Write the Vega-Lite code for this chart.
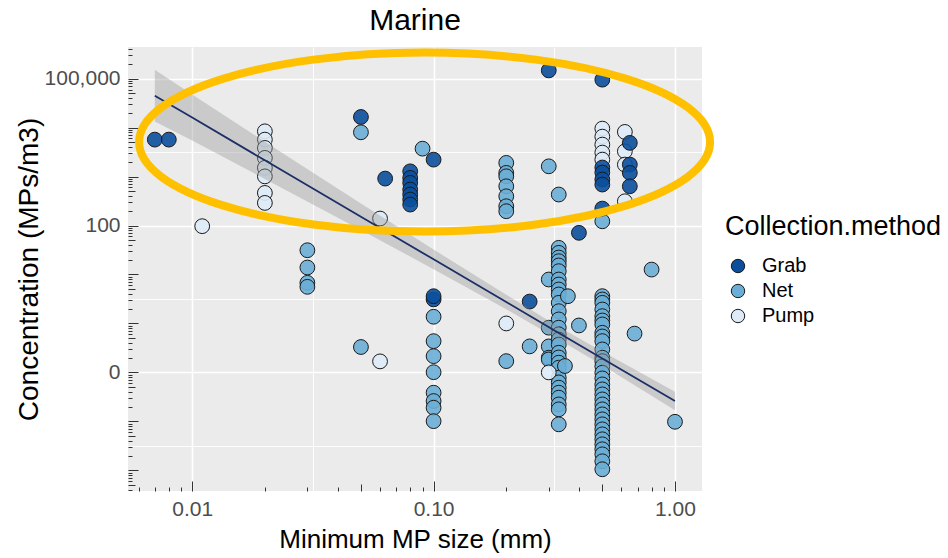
{
  "$schema": "https://vega.github.io/schema/vega-lite/v6.json",
  "width": 574,
  "height": 444,
  "autosize": {"type": "none"},
  "padding": {"left": 128, "top": 47, "right": 246, "bottom": 67},
  "background": "#FFFFFF",
  "title": {"text": "Marine", "fontSize": 30, "font": "Liberation Sans", "fontWeight": "normal", "color": "#000000", "anchor": "middle", "offset": 1},
  "config": {
    "view": {"fill": "#EBEBEB", "stroke": null},
    "font": "Liberation Sans",
    "axis": {"labelFont": "Liberation Sans", "titleFont": "Liberation Sans"},
    "legend": {"labelFont": "Liberation Sans", "titleFont": "Liberation Sans"}
  },
  "datasets": {
    "points": [
      {"size": 0.03, "conc": 31.3, "method": "Net"},
      {"size": 0.03, "conc": 13.9, "method": "Net"},
      {"size": 0.03, "conc": 6.76, "method": "Net"},
      {"size": 0.03, "conc": 5.6, "method": "Net"},
      {"size": 0.05, "conc": 8030, "method": "Net"},
      {"size": 0.05, "conc": 0.33, "method": "Net"},
      {"size": 0.09, "conc": 3720, "method": "Net"},
      {"size": 0.1, "conc": 1.37, "method": "Net"},
      {"size": 0.1, "conc": 0.435, "method": "Net"},
      {"size": 0.1, "conc": 0.215, "method": "Net"},
      {"size": 0.1, "conc": 0.101, "method": "Net"},
      {"size": 0.1, "conc": 0.0385, "method": "Net"},
      {"size": 0.1, "conc": 0.026, "method": "Net"},
      {"size": 0.1, "conc": 0.019, "method": "Net"},
      {"size": 0.1, "conc": 0.0101, "method": "Net"},
      {"size": 0.2, "conc": 1905, "method": "Net"},
      {"size": 0.2, "conc": 1190, "method": "Net"},
      {"size": 0.2, "conc": 1014, "method": "Net"},
      {"size": 0.2, "conc": 634, "method": "Net"},
      {"size": 0.2, "conc": 396, "method": "Net"},
      {"size": 0.2, "conc": 248, "method": "Net"},
      {"size": 0.2, "conc": 196, "method": "Net"},
      {"size": 0.2, "conc": 0.17, "method": "Net"},
      {"size": 0.25, "conc": 0.34, "method": "Net"},
      {"size": 0.3, "conc": 1620, "method": "Net"},
      {"size": 0.3, "conc": 7.9, "method": "Net"},
      {"size": 0.3, "conc": 0.82, "method": "Net"},
      {"size": 0.3, "conc": 0.34, "method": "Net"},
      {"size": 0.3, "conc": 0.2, "method": "Net"},
      {"size": 0.3, "conc": 0.184, "method": "Net"},
      {"size": 0.33, "conc": 430, "method": "Net"},
      {"size": 0.33, "conc": 35.1, "method": "Net"},
      {"size": 0.33, "conc": 27.7, "method": "Net"},
      {"size": 0.33, "conc": 22.2, "method": "Net"},
      {"size": 0.33, "conc": 18.7, "method": "Net"},
      {"size": 0.33, "conc": 15.3, "method": "Net"},
      {"size": 0.33, "conc": 11.7, "method": "Net"},
      {"size": 0.33, "conc": 7.9, "method": "Net"},
      {"size": 0.33, "conc": 6.25, "method": "Net"},
      {"size": 0.33, "conc": 4.94, "method": "Net"},
      {"size": 0.33, "conc": 3.91, "method": "Net"},
      {"size": 0.33, "conc": 2.64, "method": "Net"},
      {"size": 0.33, "conc": 1.78, "method": "Net"},
      {"size": 0.33, "conc": 1.21, "method": "Net"},
      {"size": 0.33, "conc": 0.82, "method": "Net"},
      {"size": 0.33, "conc": 0.6, "method": "Net"},
      {"size": 0.33, "conc": 0.47, "method": "Net"},
      {"size": 0.33, "conc": 0.37, "method": "Net"},
      {"size": 0.33, "conc": 0.252, "method": "Net"},
      {"size": 0.33, "conc": 0.202, "method": "Net"},
      {"size": 0.33, "conc": 0.158, "method": "Net"},
      {"size": 0.33, "conc": 0.125, "method": "Net"},
      {"size": 0.33, "conc": 0.078, "method": "Net"},
      {"size": 0.33, "conc": 0.0625, "method": "Net"},
      {"size": 0.33, "conc": 0.0488, "method": "Net"},
      {"size": 0.33, "conc": 0.0385, "method": "Net"},
      {"size": 0.33, "conc": 0.0305, "method": "Net"},
      {"size": 0.33, "conc": 0.0222, "method": "Net"},
      {"size": 0.33, "conc": 0.0176, "method": "Net"},
      {"size": 0.33, "conc": 0.0087, "method": "Net"},
      {"size": 0.35, "conc": 0.135, "method": "Net"},
      {"size": 0.36, "conc": 3.6, "method": "Net"},
      {"size": 0.4, "conc": 0.91, "method": "Net"},
      {"size": 0.5, "conc": 122, "method": "Net"},
      {"size": 0.5, "conc": 3.61, "method": "Net"},
      {"size": 0.5, "conc": 3.09, "method": "Net"},
      {"size": 0.5, "conc": 2.64, "method": "Net"},
      {"size": 0.5, "conc": 1.93, "method": "Net"},
      {"size": 0.5, "conc": 1.41, "method": "Net"},
      {"size": 0.5, "conc": 1.15, "method": "Net"},
      {"size": 0.5, "conc": 0.955, "method": "Net"},
      {"size": 0.5, "conc": 0.645, "method": "Net"},
      {"size": 0.5, "conc": 0.543, "method": "Net"},
      {"size": 0.5, "conc": 0.436, "method": "Net"},
      {"size": 0.5, "conc": 0.295, "method": "Net"},
      {"size": 0.5, "conc": 0.2, "method": "Net"},
      {"size": 0.5, "conc": 0.17, "method": "Net"},
      {"size": 0.5, "conc": 0.133, "method": "Net"},
      {"size": 0.5, "conc": 0.0986, "method": "Net"},
      {"size": 0.5, "conc": 0.0755, "method": "Net"},
      {"size": 0.5, "conc": 0.0569, "method": "Net"},
      {"size": 0.5, "conc": 0.045, "method": "Net"},
      {"size": 0.5, "conc": 0.0356, "method": "Net"},
      {"size": 0.5, "conc": 0.0281, "method": "Net"},
      {"size": 0.5, "conc": 0.0222, "method": "Net"},
      {"size": 0.5, "conc": 0.0176, "method": "Net"},
      {"size": 0.5, "conc": 0.0139, "method": "Net"},
      {"size": 0.5, "conc": 0.011, "method": "Net"},
      {"size": 0.5, "conc": 0.0087, "method": "Net"},
      {"size": 0.5, "conc": 0.00687, "method": "Net"},
      {"size": 0.5, "conc": 0.00543, "method": "Net"},
      {"size": 0.5, "conc": 0.0043, "method": "Net"},
      {"size": 0.5, "conc": 0.0034, "method": "Net"},
      {"size": 0.5, "conc": 0.00269, "method": "Net"},
      {"size": 0.5, "conc": 0.00212, "method": "Net"},
      {"size": 0.5, "conc": 0.00153, "method": "Net"},
      {"size": 0.5, "conc": 0.00105, "method": "Net"},
      {"size": 0.68, "conc": 0.62, "method": "Net"},
      {"size": 0.8, "conc": 12.6, "method": "Net"},
      {"size": 1.0, "conc": 0.0098, "method": "Net"},
      {"size": 0.011, "conc": 97, "method": "Pump"},
      {"size": 0.02, "conc": 8400, "method": "Pump"},
      {"size": 0.02, "conc": 5690, "method": "Pump"},
      {"size": 0.02, "conc": 3850, "method": "Pump"},
      {"size": 0.02, "conc": 2410, "method": "Pump"},
      {"size": 0.02, "conc": 1510, "method": "Pump"},
      {"size": 0.02, "conc": 1010, "method": "Pump"},
      {"size": 0.02, "conc": 464, "method": "Pump"},
      {"size": 0.02, "conc": 290, "method": "Pump"},
      {"size": 0.06, "conc": 139, "method": "Pump"},
      {"size": 0.06, "conc": 0.168, "method": "Pump"},
      {"size": 0.2, "conc": 1.0, "method": "Pump"},
      {"size": 0.3, "conc": 0.1, "method": "Pump"},
      {"size": 0.5, "conc": 9550, "method": "Pump"},
      {"size": 0.5, "conc": 6550, "method": "Pump"},
      {"size": 0.5, "conc": 4500, "method": "Pump"},
      {"size": 0.5, "conc": 3090, "method": "Pump"},
      {"size": 0.5, "conc": 2220, "method": "Pump"},
      {"size": 0.62, "conc": 8170, "method": "Pump"},
      {"size": 0.62, "conc": 3280, "method": "Pump"},
      {"size": 0.62, "conc": 1760, "method": "Pump"},
      {"size": 0.62, "conc": 313, "method": "Pump"},
      {"size": 0.007, "conc": 5690, "method": "Grab"},
      {"size": 0.008, "conc": 5690, "method": "Grab"},
      {"size": 0.05, "conc": 16500, "method": "Grab"},
      {"size": 0.063, "conc": 910, "method": "Grab"},
      {"size": 0.08, "conc": 1280, "method": "Grab"},
      {"size": 0.08, "conc": 940, "method": "Grab"},
      {"size": 0.08, "conc": 743, "method": "Grab"},
      {"size": 0.08, "conc": 543, "method": "Grab"},
      {"size": 0.08, "conc": 430, "method": "Grab"},
      {"size": 0.08, "conc": 340, "method": "Grab"},
      {"size": 0.08, "conc": 268, "method": "Grab"},
      {"size": 0.1, "conc": 2220, "method": "Grab"},
      {"size": 0.1, "conc": 3.1, "method": "Grab"},
      {"size": 0.1, "conc": 3.6, "method": "Grab"},
      {"size": 0.25, "conc": 2.8, "method": "Grab"},
      {"size": 0.3, "conc": 147600, "method": "Grab"},
      {"size": 0.4, "conc": 71, "method": "Grab"},
      {"size": 0.5, "conc": 95500, "method": "Grab"},
      {"size": 0.5, "conc": 1530, "method": "Grab"},
      {"size": 0.5, "conc": 1210, "method": "Grab"},
      {"size": 0.5, "conc": 870, "method": "Grab"},
      {"size": 0.5, "conc": 687, "method": "Grab"},
      {"size": 0.5, "conc": 222, "method": "Grab"},
      {"size": 0.65, "conc": 4880, "method": "Grab"},
      {"size": 0.65, "conc": 1760, "method": "Grab"},
      {"size": 0.65, "conc": 1190, "method": "Grab"},
      {"size": 0.65, "conc": 634, "method": "Grab"}
    ],
    "fit": [
      {"size": 0.007, "lo": 13270, "fit": 44980, "hi": 152400},
      {"size": 0.01, "lo": 5430, "fit": 16030, "hi": 47300},
      {"size": 0.02, "lo": 895, "fit": 2148, "hi": 5150},
      {"size": 0.05, "lo": 81.3, "fit": 151.4, "hi": 281.8},
      {"size": 0.1, "lo": 12.85, "fit": 20.4, "hi": 32.3},
      {"size": 0.2, "lo": 1.94, "fit": 2.742, "hi": 3.87},
      {"size": 0.33, "lo": 0.472, "fit": 0.637, "hi": 0.859},
      {"size": 0.5, "lo": 0.14, "fit": 0.193, "hi": 0.267},
      {"size": 1.0, "lo": 0.0168, "fit": 0.026, "hi": 0.0403}
    ]
  },
  "layer": [
    {
      "data": {"name": "points"},
      "mark": {"type": "point", "shape": "circle", "filled": true, "size": 219, "stroke": "#1A1A1A", "strokeWidth": 1, "fillOpacity": 0.9, "strokeOpacity": 1},
      "encoding": {
        "x": {
          "field": "size", "type": "quantitative",
          "scale": {"type": "log", "domain": [0.00542, 1.294], "nice": false},
          "axis": {
            "title": "Minimum MP size (mm)",
            "values": [0.006, 0.007, 0.008, 0.009, 0.01, 0.02, 0.03, 0.031623, 0.04, 0.05, 0.06, 0.07, 0.08, 0.09, 0.1, 0.2, 0.3, 0.31623, 0.4, 0.5, 0.6, 0.7, 0.8, 0.9, 1],
            "labelExpr": "indexof([0.01, 0.1, 1], datum.value) >= 0 ? format(datum.value, '.2f') : ''",
            "labelOverlap": false, "labelFlush": false, "labelBound": false,
            "labelFontSize": 21, "labelColor": "#4D4D4D", "labelPadding": 17,
            "titleFontSize": 26, "titleColor": "#000000", "titleFontWeight": "normal", "titlePadding": 1,
            "domain": false,
            "tickSize": {"condition": [{"test": "indexof([0.01, 0.1, 1], datum.value) >= 0", "value": -10}, {"test": "indexof([0.005, 0.05, 0.5], datum.value) >= 0", "value": -7}], "value": -4},
            "tickColor": "#333333", "tickWidth": 1,
            "tickOpacity": {"condition": {"test": "indexof([0.031623, 0.31623], datum.value) >= 0", "value": 0}, "value": 1},
            "grid": true, "gridColor": "#FFFFFF",
            "gridOpacity": {"condition": {"test": "indexof([0.01, 0.1, 1, 0.031623, 0.31623], datum.value) >= 0", "value": 1}, "value": 0},
            "gridWidth": {"condition": {"test": "indexof([0.01, 0.1, 1], datum.value) >= 0", "value": 1.6}, "value": 0.9}
          }
        },
        "y": {
          "field": "conc", "type": "quantitative",
          "scale": {"type": "log", "domain": [0.000378, 443600], "nice": false},
          "axis": {
            "title": "Concentration (MPs/m3)",
            "values": [0.0004, 0.0005, 0.0006, 0.0007, 0.0008, 0.0009, 0.001, 0.002, 0.003, 0.0031623, 0.004, 0.005, 0.006, 0.007, 0.008, 0.009, 0.01, 0.02, 0.03, 0.04, 0.05, 0.06, 0.07, 0.08, 0.09, 0.1, 0.2, 0.3, 0.4, 0.5, 0.6, 0.7, 0.8, 0.9, 1, 2, 3, 3.1623, 4, 5, 6, 7, 8, 9, 10, 20, 30, 40, 50, 60, 70, 80, 90, 100, 200, 300, 400, 500, 600, 700, 800, 900, 1000, 2000, 3000, 3162.3, 4000, 5000, 6000, 7000, 8000, 9000, 10000, 20000, 30000, 40000, 50000, 60000, 70000, 80000, 90000, 100000, 200000, 300000, 400000],
            "labelExpr": "indexof([0.1, 100, 100000], datum.value) >= 0 ? format(datum.value, ',.0f') : ''",
            "labelOverlap": false, "labelFlush": false, "labelBound": false,
            "labelFontSize": 21, "labelColor": "#4D4D4D", "labelPadding": 18,
            "titleFontSize": 28, "titleColor": "#000000", "titleFontWeight": "normal", "titlePadding": 1,
            "domain": false,
            "tickSize": {"condition": [{"test": "indexof([0.001, 0.01, 0.1, 1, 10, 100, 1000, 10000, 100000], datum.value) >= 0", "value": -10}, {"test": "indexof([0.0005, 0.005, 0.05, 0.5, 5, 50, 500, 5000, 50000], datum.value) >= 0", "value": -7}], "value": -4},
            "tickColor": "#333333", "tickWidth": 1,
            "tickOpacity": {"condition": {"test": "indexof([0.0031623, 3.1623, 3162.3], datum.value) >= 0", "value": 0}, "value": 1},
            "grid": true, "gridColor": "#FFFFFF",
            "gridOpacity": {"condition": {"test": "indexof([0.1, 100, 100000, 0.0031623, 3.1623, 3162.3], datum.value) >= 0", "value": 1}, "value": 0},
            "gridWidth": {"condition": {"test": "indexof([0.1, 100, 100000], datum.value) >= 0", "value": 1.6}, "value": 0.9}
          }
        },
        "fill": {
          "field": "method", "type": "nominal",
          "scale": {"domain": ["Grab", "Net", "Pump"], "range": ["#0B4F9C", "#6AAED6", "#DEEBF7"]},
          "legend": {
            "title": "Collection.method", "orient": "none", "legendX": 597, "legendY": 167,
            "titleFontSize": 27, "titleFontWeight": "normal", "titleColor": "#000000", "titlePadding": 15, "titleLimit": 400,
            "labelFontSize": 20, "labelColor": "#000000", "labelOffset": 14,
            "symbolType": "circle", "symbolSize": 180, "symbolStrokeColor": "#1A1A1A", "symbolStrokeWidth": 1, "symbolOffset": 3,
            "rowPadding": 5, "padding": 0
          }
        }
      }
    },
    {
      "data": {"name": "fit"},
      "mark": {"type": "area", "color": "#999999", "opacity": 0.4},
      "encoding": {
        "x": {"field": "size", "type": "quantitative"},
        "y": {"field": "lo", "type": "quantitative"},
        "y2": {"field": "hi"}
      }
    },
    {
      "data": {"name": "fit"},
      "mark": {"type": "line", "color": "#1B2F66", "strokeWidth": 1.8},
      "encoding": {
        "x": {"field": "size", "type": "quantitative"},
        "y": {"field": "fit", "type": "quantitative"}
      }
    },
    {
      "data": {"values": [{}]},
      "mark": {"type": "point", "shape": "M-1,0C-1,-0.1731,-0.5523,-0.3135,0,-0.3135C0.5523,-0.3135,1,-0.1731,1,0C1,0.1731,0.5523,0.3135,0,0.3135C-0.5523,0.3135,-1,0.1731,-1,0Z", "size": 326041, "filled": false, "stroke": "#FFC000", "strokeWidth": 8, "opacity": 1},
      "encoding": {
        "x": {"datum": 0.09177, "type": "quantitative"},
        "y": {"datum": 5058, "type": "quantitative"}
      }
    }
  ]
}
